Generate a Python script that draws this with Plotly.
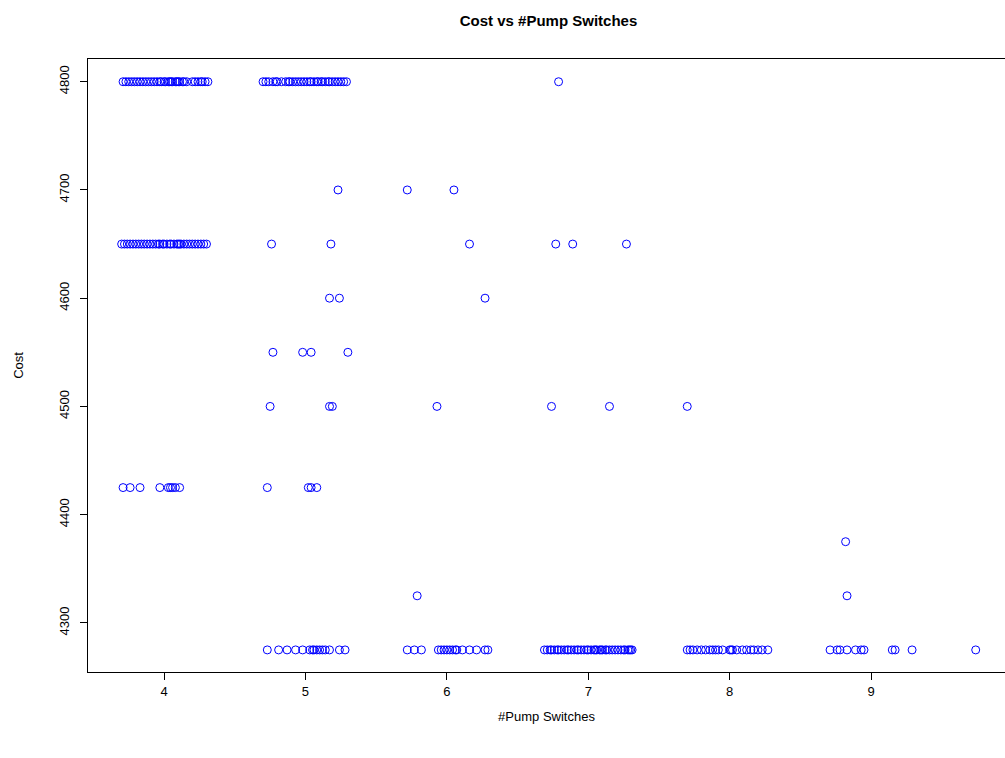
import plotly.graph_objects as go

# Cost levels and #pump switches (jittered)
x_4800 = [3.71, 3.73, 3.75, 3.77, 3.79, 3.81, 3.83, 3.85, 3.87, 3.89, 3.91, 3.93, 3.95, 3.97,
          3.98, 4.00, 4.01, 4.03, 4.04, 4.05, 4.06, 4.08, 4.09, 4.10, 4.11, 4.13, 4.14, 4.16,
          4.20, 4.22, 4.24, 4.26, 4.27, 4.29, 4.31,
          4.70, 4.72, 4.74, 4.77, 4.79, 4.80, 4.83, 4.86, 4.88, 4.89, 4.91, 4.93, 4.95, 4.97,
          4.99, 5.01, 5.03, 5.04, 5.06, 5.08, 5.09, 5.11, 5.12, 5.14, 5.16, 5.17, 5.19, 5.21,
          5.23, 5.25, 5.27, 5.29,
          6.79]
x_4700 = [5.23, 5.72, 6.05]
x_4650 = [3.70, 3.72, 3.74, 3.76, 3.78, 3.80, 3.82, 3.84, 3.86, 3.88, 3.90, 3.92, 3.94, 3.96,
          3.97, 3.99, 4.00, 4.02, 4.04, 4.05, 4.07, 4.09, 4.10, 4.11, 4.12, 4.14, 4.16, 4.18,
          4.20, 4.22, 4.24, 4.26, 4.28, 4.30,
          4.76, 5.18, 6.16, 6.77, 6.89, 7.27]
x_4600 = [5.17, 5.24, 6.27]
x_4550 = [4.77, 4.98, 5.04, 5.30]
x_4500 = [4.75, 5.17, 5.19, 5.93, 6.74, 7.15, 7.70]
x_4425 = [3.71, 3.76, 3.83, 3.97, 4.03, 4.045, 4.06, 4.08, 4.11, 4.73, 5.02, 5.04, 5.08]
x_4375 = [8.82]
x_4325 = [5.79, 8.83]
x_4275 = [4.73, 4.81, 4.87, 4.93, 4.98, 5.03, 5.05, 5.06, 5.08, 5.10, 5.12, 5.14, 5.17,
          5.24, 5.28,
          5.72, 5.77, 5.82, 5.94, 5.96, 5.98, 6.00, 6.02, 6.04, 6.06, 6.07, 6.11, 6.16,
          6.21, 6.27, 6.29,
          6.69, 6.71, 6.73, 6.74, 6.76, 6.78, 6.79, 6.81, 6.83, 6.85, 6.86, 6.88, 6.90,
          6.92, 6.93, 6.95, 6.97, 6.99, 7.00, 7.02, 7.04, 7.05, 7.06, 7.08, 7.09, 7.10,
          7.12, 7.13, 7.15, 7.17, 7.19, 7.21, 7.23, 7.25, 7.26, 7.28, 7.29, 7.30, 7.31,
          7.70, 7.72, 7.74, 7.77, 7.80, 7.83, 7.86, 7.88, 7.90, 7.92, 7.95, 8.00, 8.01,
          8.02, 8.05, 8.09, 8.12, 8.15, 8.17, 8.20, 8.23, 8.27,
          8.71, 8.76, 8.78, 8.83, 8.89, 8.93, 8.95, 9.15, 9.17, 9.29, 9.74]

cost_groups = [
    (4800, x_4800), (4700, x_4700), (4650, x_4650), (4600, x_4600), (4550, x_4550),
    (4500, x_4500), (4425, x_4425), (4375, x_4375), (4325, x_4325), (4275, x_4275),
]

switches = []
cost = []
for c, xs in cost_groups:
    switches.extend(xs)
    cost.extend([c] * len(xs))

x_ticks = [4, 5, 6, 7, 8, 9]
y_ticks = [4300, 4400, 4500, 4600, 4700, 4800]

W, H = 1005, 758
ML, MR, MT, MB = 88, 0, 59, 86

fig = go.Figure()
fig.add_trace(go.Scatter(
    x=switches, y=cost, mode="markers",
    marker=dict(symbol="circle-open", size=8, color="#0000FF", line=dict(width=1, color="#0000FF")),
    hoverinfo="x+y", showlegend=False,
))

font = "Liberation Sans, Arial, Helvetica, sans-serif"
fig.update_layout(
    width=W, height=H,
    margin=dict(l=ML, r=MR, t=MT, b=MB, pad=0),
    paper_bgcolor="white", plot_bgcolor="white",
    font=dict(family=font, size=13, color="black"),
    title=dict(text="<b>Cost vs #Pump Switches</b>", x=548.5 / W, xref="container",
               xanchor="center", y=1 - 21 / H, yref="container", yanchor="middle",
               font=dict(size=15, family=font, color="black")),
    xaxis=dict(range=[3.462, 3.462 + (W - ML - MR) / 141.4], tickvals=x_ticks,
               ticks="outside", ticklen=7, tickwidth=1, tickcolor="black",
               showline=True, linecolor="black", linewidth=1, mirror=True,
               showgrid=False, zeroline=False,
               title=dict(text="#Pump Switches", standoff=14, font=dict(size=13)),
               tickfont=dict(size=13)),
    yaxis=dict(range=[4254.6, 4821], tickvals=y_ticks, tickangle=-90,
               ticks="outside", ticklen=7, tickwidth=1, tickcolor="black",
               ticklabelstandoff=6,
               showline=True, linecolor="black", linewidth=1, mirror=False,
               showgrid=False, zeroline=False,
               title=dict(text="Cost", standoff=30, font=dict(size=13)),
               tickfont=dict(size=13)),
)

fig.write_html("out.html")
